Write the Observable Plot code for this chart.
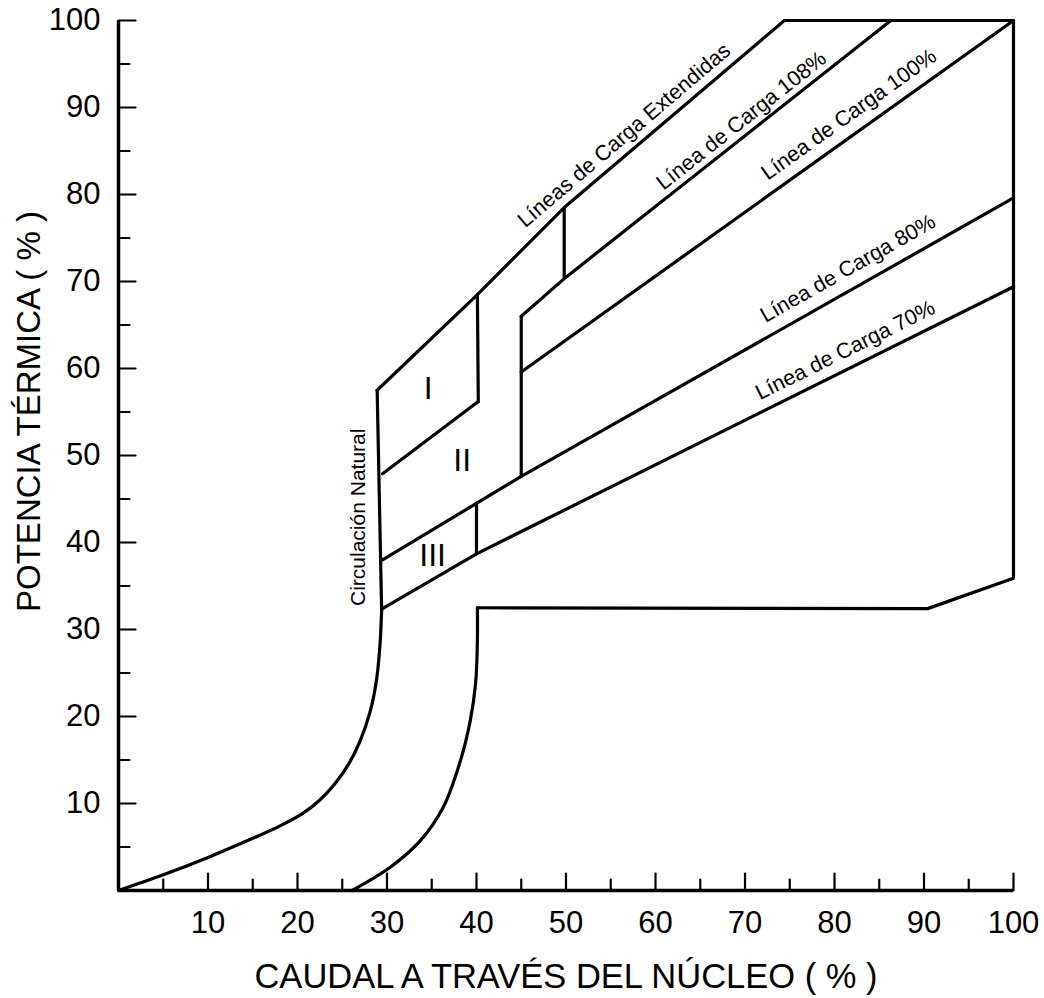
<!DOCTYPE html>
<html><head><meta charset="utf-8">
<script src="https://cdn.jsdelivr.net/npm/d3@7"></script>
<script src="https://cdn.jsdelivr.net/npm/@observablehq/plot@0.6"></script>
<style>html,body{margin:0;padding:0;background:#fff;} svg{display:block}</style>
</head><body><div id="chart"></div>
<script>
// ---- Axis ticks ----
const xTicksMajor = [10, 20, 30, 40, 50, 60, 70, 80, 90, 100];
const xTicksMinor = [5, 15, 25, 35, 45, 55, 65, 75, 85, 95];
const yTicksMajor = [10, 20, 30, 40, 50, 60, 70, 80, 90, 100];
const yTicksMinor = [5, 15, 25, 35, 45, 55, 65, 75, 85, 95];
const xTitle = "CAUDAL A TRAVÉS DEL NÚCLEO ( % )";
const yTitle = "POTENCIA TÉRMICA ( % )";

// ---- Curves (caudal %, potencia %) ----
const naturalCurveX = [0, 5, 10, 15, 18, 20.5, 22.5, 24.2, 25.7, 27.0, 28.1, 28.8, 29.2, 29.4];
const naturalCurveY = [0, 1.8, 3.8, 6.0, 7.4, 8.8, 10.4, 12.3, 14.5, 17.2, 20.5, 24.0, 28.0, 32.2];
const minFlowCurveX = [26.1, 30.4, 33.7, 36.3, 38.2, 39.3, 39.9, 40.1, 40.1];
const minFlowCurveY = [0, 2.7, 5.7, 9.6, 14.9, 19.5, 23.8, 28.7, 32.5];

// ---- Straight boundaries ----
const naturalVerticalX = [29.4, 28.9];
const naturalVerticalY = [32.2, 57.5];
const extendedLineX = [28.9, 40.1, 49.8, 74.4, 100];
const extendedLineY = [57.5, 68.5, 78.5, 100, 100];
const lowerBoundX = [40.1, 90.4, 100, 100];
const lowerBoundY = [32.5, 32.4, 35.9, 100];
const line108X = [45, 50, 86.3];
const line108Y = [66, 70.5, 100];
const line100aX = [29.5, 40.2];
const line100aY = [47.9, 56.2];
const line100bX = [45, 100];
const line100bY = [59.6, 100];
const line80X = [29.5, 45, 100];
const line80Y = [38.0, 47.6, 79.6];
const line70X = [29.5, 40, 100];
const line70Y = [32.4, 38.7, 69.4];
const divider40aX = [40.1, 40.2];
const divider40aY = [68.5, 56.2];
const divider45X = [45, 45];
const divider45Y = [66, 47.6];
const divider50X = [49.8, 49.8];
const divider50Y = [78.5, 70.5];
const divider40bX = [40, 40];
const divider40bY = [44.5, 38.7];

// ---- Region labels ----
const regionNames = ["I", "II", "III"];
const regionX = [34.6, 38.4, 35.1];
const regionY = [57.7, 49.4, 38.5];

// ---- Line labels ----
const lineLabelText = ["Líneas de Carga Extendidas", "Línea de Carga 108%", "Línea de Carga 100%", "Línea de Carga 80%", "Línea de Carga 70%"];
const lineLabelX = [56.5, 69.6, 81.6, 81.5, 81.2];
const lineLabelY = [86.8, 88.5, 89.2, 71.5, 62.1];
const lineLabelRefX = [[49.8, 74.4], [50, 86.3], [45, 100], [45, 100], [40, 100]];
const lineLabelRefY = [[78.5, 100], [70.5, 100], [59.6, 100], [47.6, 79.6], [38.7, 69.4]];

const naturalLabel = "Circulación Natural";
const naturalLabelX = [26.8];
const naturalLabelY = [42.9];

// ---- Build tables ----
const W = 1044, H = 998, mL = 118, mR = 31, mT = 20, mB = 108;
const kx = (W - mL - mR) / 100, ky = (H - mT - mB) / 100;

function pts(id, xs, ys) { return xs.map((x, i) => ({id, x, y: ys[i]})); }
const curves = [
  ...pts("natural", naturalCurveX, naturalCurveY),
  ...pts("minflow", minFlowCurveX, minFlowCurveY)
];
const straight = [
  ...pts("natV", naturalVerticalX, naturalVerticalY),
  ...pts("ext", extendedLineX, extendedLineY),
  ...pts("low", lowerBoundX, lowerBoundY),
  ...pts("l108", line108X, line108Y),
  ...pts("l100a", line100aX, line100aY),
  ...pts("l100b", line100bX, line100bY),
  ...pts("l80", line80X, line80Y),
  ...pts("l70", line70X, line70Y),
  ...pts("d40a", divider40aX, divider40aY),
  ...pts("d45", divider45X, divider45Y),
  ...pts("d50", divider50X, divider50Y),
  ...pts("d40b", divider40bX, divider40bY)
];
const regions = regionNames.map((t, i) => ({t, x: regionX[i], y: regionY[i]}));
const lineLabels = lineLabelText.map((t, i) => {
  const [x0, x1] = lineLabelRefX[i], [y0, y1] = lineLabelRefY[i];
  const ang = -Math.atan2((y1 - y0) * ky, (x1 - x0) * kx) * 180 / Math.PI;
  return {t, x: lineLabelX[i], y: lineLabelY[i], r: ang};
});

const tickShape = {draw(context, l) { context.moveTo(0, 0); context.lineTo(0, -l); }};
const font = "'Liberation Sans', Arial, Helvetica, sans-serif";

const chart = Plot.plot({
  width: W, height: H,
  marginLeft: mL, marginRight: mR, marginTop: mT, marginBottom: mB,
  x: {domain: [0, 100]},
  y: {domain: [0, 100]},
  style: {fontFamily: font, background: "white", color: "black"},
  marks: [
    Plot.axisX(xTicksMajor, {tickSize: 0, tickPadding: 20, fontSize: 31, label: null, tickFormat: d => String(d)}),
    Plot.axisY(yTicksMajor, {tickSize: 0, tickPadding: 18, fontSize: 31, label: null, tickFormat: d => String(d)}),
    Plot.vector(xTicksMajor, {x: d => d, frameAnchor: "bottom", length: 17, rotate: 0, anchor: "start", shape: tickShape, stroke: "black", strokeWidth: 2.2}),
    Plot.vector(xTicksMinor, {x: d => d, frameAnchor: "bottom", length: 11, rotate: 0, anchor: "start", shape: tickShape, stroke: "black", strokeWidth: 2.2}),
    Plot.vector(yTicksMajor, {y: d => d, frameAnchor: "left", length: 17, rotate: 90, anchor: "start", shape: tickShape, stroke: "black", strokeWidth: 2.2}),
    Plot.vector(yTicksMinor, {y: d => d, frameAnchor: "left", length: 11, rotate: 90, anchor: "start", shape: tickShape, stroke: "black", strokeWidth: 2.2}),
    Plot.ruleY([0], {stroke: "black", strokeWidth: 3.5}),
    Plot.ruleX([0], {stroke: "black", strokeWidth: 3.5}),
    Plot.line(curves, {x: "x", y: "y", z: "id", curve: "catmull-rom", stroke: "black", strokeWidth: 3.2}),
    Plot.line(straight, {x: "x", y: "y", z: "id", stroke: "black", strokeWidth: 3.2, strokeLinejoin: "miter"}),
    Plot.text(regions, {x: "x", y: "y", text: "t", fontSize: 32, fill: "black"}),
    Plot.text(lineLabels, {x: "x", y: "y", text: "t", rotate: "r", fontSize: 21.5, fill: "black"}),
    Plot.text([naturalLabel], {x: naturalLabelX, y: naturalLabelY, text: d => d, rotate: -90, fontSize: 21, fill: "black"}),
    Plot.text([xTitle], {frameAnchor: "bottom", textAnchor: "middle", lineAnchor: "bottom", dy: 97, text: d => d, fontSize: 34.5, fill: "black"}),
    Plot.text([yTitle], {frameAnchor: "left", textAnchor: "middle", lineAnchor: "middle", dx: -89, dy: -44, rotate: -90, text: d => d, fontSize: 33, fill: "black"})
  ]
});
document.getElementById("chart").appendChild(chart);
</script>
</body></html>
